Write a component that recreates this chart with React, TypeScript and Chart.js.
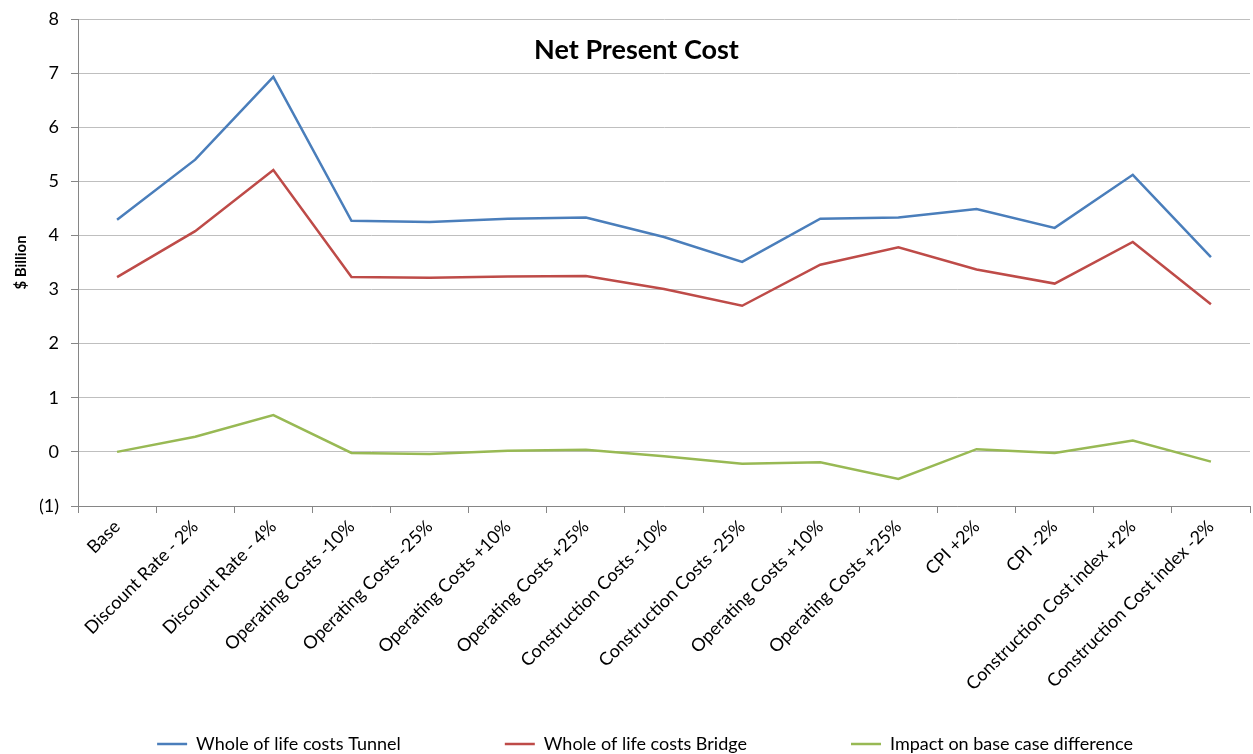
import React, { useEffect, useRef } from "react";
import { Chart, registerables } from "chart.js";

Chart.register(...registerables);

const categories: string[] = [
  "Base",
  "Discount Rate - 2%",
  "Discount Rate - 4%",
  "Operating Costs -10%",
  "Operating Costs -25%",
  "Operating Costs +10%",
  "Operating Costs +25%",
  "Construction Costs -10%",
  "Construction Costs -25%",
  "Operating Costs +10%",
  "Operating Costs +25%",
  "CPI +2%",
  "CPI -2%",
  "Construction Cost index +2%",
  "Construction Cost index -2%",
];

const tunnelCosts: number[] = [4.29, 5.4, 6.93, 4.27, 4.25, 4.31, 4.33, 3.97, 3.51, 4.31, 4.33, 4.49, 4.14, 5.12, 3.6];
const bridgeCosts: number[] = [3.23, 4.08, 5.21, 3.23, 3.22, 3.24, 3.25, 3.01, 2.7, 3.46, 3.78, 3.37, 3.11, 3.88, 2.73];
const impactDiff: number[] = [0.0, 0.28, 0.68, -0.02, -0.04, 0.02, 0.04, -0.08, -0.22, -0.19, -0.5, 0.05, -0.02, 0.21, -0.18];

const seriesNames: string[] = [
  "Whole of life costs Tunnel",
  "Whole of life costs Bridge",
  "Impact on base case difference",
];

const chartTitle = "Net Present Cost";
const yAxisTitle = "$ Billion";

const FONT = "Lato, 'Open Sans', sans-serif";

const titlePlugin = {
  id: "overlayTitle",
  beforeDraw(chart: any) {
    // let rotated category labels run past the axis box (into the legend's empty padding)
    const xs = chart.scales.x;
    if (xs) xs._computeLabelArea = () => undefined;
  },
  afterDraw(chart: any) {
    const { ctx, chartArea } = chart;
    ctx.save();
    ctx.font = `bold 27px ${FONT}`;
    ctx.fillStyle = "#000";
    ctx.textAlign = "center";
    ctx.textBaseline = "middle";
    ctx.fillText(chartTitle, chart.width / 2 + 10, chartArea.top + 31);
    ctx.restore();
  },
};

export default function App() {
  const ref = useRef<HTMLCanvasElement | null>(null);

  useEffect(() => {
    document.body.style.margin = "0";
    const canvas = ref.current;
    if (!canvas) return;
    const chart = new Chart(canvas, {
      type: "line",
      data: {
        labels: categories,
        datasets: [
          {
            label: seriesNames[0],
            data: tunnelCosts,
            borderColor: "#4A7EBB",
            backgroundColor: "#4A7EBB",
            borderWidth: 2.5,
            pointRadius: 0,
            tension: 0,
          },
          {
            label: seriesNames[1],
            data: bridgeCosts,
            borderColor: "#BE4B48",
            backgroundColor: "#BE4B48",
            borderWidth: 2.5,
            pointRadius: 0,
            tension: 0,
          },
          {
            label: seriesNames[2],
            data: impactDiff,
            borderColor: "#98B954",
            backgroundColor: "#98B954",
            borderWidth: 2.5,
            pointRadius: 0,
            tension: 0,
          },
        ],
      },
      options: {
        animation: false,
        responsive: false,
        maintainAspectRatio: false,
        layout: { padding: { top: 19, right: 3, left: 40, bottom: -9 } },
        plugins: {
          title: { display: false },
          tooltip: { enabled: false },
          legend: {
            position: "bottom",
            labels: {
              usePointStyle: true,
              pointStyle: "line",
              pointStyleWidth: 30,
              boxWidth: 30,
              boxHeight: 3,
              padding: 104,
              color: "#000",
              font: { family: FONT, size: 18 },
            },
          },
        },
        scales: {
          x: {
            offset: true,
            grid: {
              offset: true,
              drawOnChartArea: false,
              drawTicks: true,
              tickLength: 7,
              color: "#868686",
            },
            border: { color: "#868686", width: 1 },
            ticks: {
              autoSkip: false,
              maxRotation: 45,
              minRotation: 45,
              color: "#000",
              font: { family: FONT, size: 18 },
              padding: 3,
            },
            afterFit(scale: any) {
              scale.height = 125;
            },
          },
          y: {
            min: -1,
            max: 8,
            ticks: {
              stepSize: 1,
              color: "#000",
              font: { family: FONT, size: 18, lineHeight: 1 },
              padding: 12,
              callback: (v: any) => (Number(v) < 0 ? `(${Math.abs(Number(v))})` : `${v}`),
            },
            grid: {
              color: "#BFBFBF",
              tickLength: 7,
              tickColor: "#868686",
            },
            border: { color: "#868686", width: 1 },
            title: {
              display: true,
              text: yAxisTitle,
              color: "#000",
              font: { family: FONT, size: 15, weight: "bold" },
              padding: { top: -28, bottom: 6 },
            },
            afterFit(scale: any) {
              scale.width = 38;
              scale.paddingTop = 0;
            },
          },
        },
      },
      plugins: [titlePlugin],
    });
    return () => chart.destroy();
  }, []);

  return (
    <div style={{ position: "absolute", left: 0, top: 0, width: 1253, height: 754, background: "#fff" }}>
      <canvas ref={ref} width={1253} height={754} />
    </div>
  );
}
